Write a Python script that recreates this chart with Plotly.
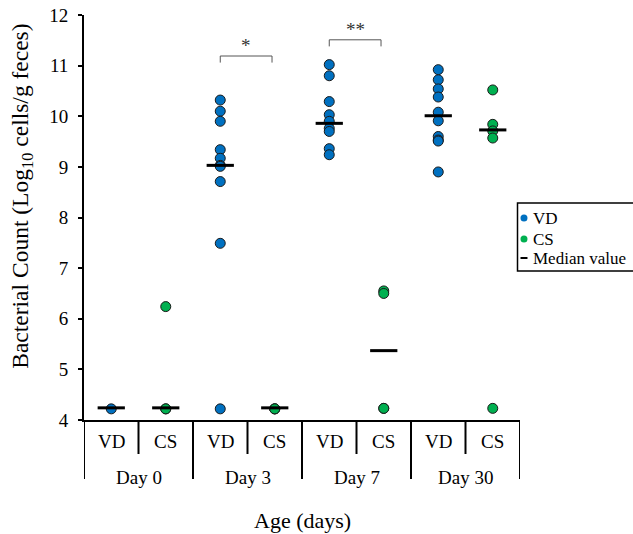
import plotly.graph_objects as go

# ---------------- data ----------------
days = ["Day 0", "Day 3", "Day 7", "Day 30"]
groups = ["VD", "CS"]
y_ticks = [4, 5, 6, 7, 8, 9, 10, 11, 12]

vd_values = [
    [4.22],
    [10.32, 10.10, 9.90, 9.34, 9.17, 9.03, 9.01, 8.71, 7.49, 4.22],
    [11.02, 10.80, 10.29, 10.03, 9.90, 9.76, 9.70, 9.36, 9.24],
    [10.92, 10.72, 10.54, 10.38, 10.08, 9.91, 9.60, 9.53, 9.51, 8.90],
]
cs_values = [
    [6.24, 4.22, 4.22],
    [4.22, 4.22, 4.22],
    [6.55, 6.50, 4.23, 4.23],
    [10.52, 9.84, 9.71, 9.57, 4.23],
]
# median values (VD, CS per day)
vd_median = [4.24, 9.03, 9.86, 10.01]
cs_median = [4.24, 4.24, 5.37, 9.73]

# significance brackets: (day index, label)
significance = [(1, "*"), (2, "**")]
sig_height = [11.19, 11.51]

# ---------------- styling ----------------
FONT = "Liberation Serif"
BLUE = "#0070C0"
GREEN = "#00B050"

fig = go.Figure()

def add_points(values, offset, color, name):
    xs, ys = [], []
    for d, vals in enumerate(values):
        for v in vals:
            xs.append(d * 2 + offset)
            ys.append(v)
    fig.add_trace(go.Scatter(
        x=xs, y=ys, mode="markers", name=name, showlegend=False,
        marker=dict(size=10, color=color, line=dict(color="#1a1a1a", width=1)),
    ))

add_points(vd_values, 0, BLUE, "VD")
add_points(cs_values, 1, GREEN, "CS")

# median lines
mx, my = [], []
for d in range(len(days)):
    for off, med in ((0, vd_median[d]), (1, cs_median[d])):
        c = d * 2 + off
        mx += [c - 0.25, c + 0.25, None]
        my += [med, med, None]
fig.add_trace(go.Scatter(x=mx, y=my, mode="lines", showlegend=False,
                         line=dict(color="black", width=3)))

shapes = []
annotations = []

# significance brackets
for (d, lab), h in zip(significance, sig_height):
    x0 = d * 2 + 0.0
    x1 = d * 2 + 0.95
    shapes.append(dict(type="path", xref="x", yref="y",
                       path=f"M {x0},{h-0.13} L {x0},{h} L {x1},{h} L {x1},{h-0.13}",
                       line=dict(color="#555555", width=1)))
    annotations.append(dict(x=(x0 + x1) / 2, y=h + 0.2, xref="x", yref="y",
                            text=lab, showarrow=False,
                            font=dict(family=FONT, size=19, color="#333")))

# category axis: dividers and labels
n = len(days) * 2
for b in range(n + 1):
    xb = b - 0.5
    major = (b % 2 == 0)
    shapes.append(dict(type="line", xref="x", yref="paper",
                       x0=xb, x1=xb, y0=0, y1=-0.1457 if major else -0.084,
                       line=dict(color="black", width=2)))
for d, day in enumerate(days):
    for g, grp in enumerate(groups):
        annotations.append(dict(x=d * 2 + g, y=-0.052, xref="x", yref="paper",
                                text=grp, showarrow=False, yanchor="middle",
                                font=dict(family=FONT, size=19, color="black")))
    annotations.append(dict(x=d * 2 + 0.5, y=-0.141, xref="x", yref="paper",
                            text=day, showarrow=False, yanchor="middle",
                            font=dict(family=FONT, size=19, color="black")))

# axis titles
annotations.append(dict(x=0.5, y=-0.247, xref="paper", yref="paper",
                        text="Age (days)", showarrow=False, yanchor="middle",
                        font=dict(family=FONT, size=22, color="black")))
annotations.append(dict(x=-0.1429, y=0.553, xref="paper", yref="paper",
                        text="Bacterial Count (Log<sub>10</sub> cells/g feces)",
                        textangle=-90, showarrow=False,
                        xanchor="center", yanchor="middle",
                        font=dict(family=FONT, size=23.5, color="black")))

# manual legend
PW = 437.0  # plot width in px
PH = 405.0  # plot height in px
def px(xp):
    return (xp - 83.5) / PW
def py(yp):
    return (420 - yp) / PH

shapes.append(dict(type="rect", xref="paper", yref="paper",
                   x0=px(518), x1=px(640), y0=py(203), y1=py(271),
                   line=dict(color="black", width=1.5), fillcolor="white"))
leg_items = [("VD", BLUE, 218), ("CS", GREEN, 239), ("Median value", None, 258)]
for name, col, yp in leg_items:
    if col:
        shapes.append(dict(type="circle", xref="paper", yref="paper",
                           xsizemode="pixel", ysizemode="pixel",
                           xanchor=px(524.5), yanchor=py(yp),
                           x0=-3.5, x1=3.5, y0=-3.5, y1=3.5,
                           fillcolor=col, line=dict(width=0)))
    else:
        shapes.append(dict(type="line", xref="paper", yref="paper",
                           x0=px(521), x1=px(528), y0=py(yp), y1=py(yp),
                           line=dict(color="black", width=2)))
    annotations.append(dict(x=px(532), y=py(yp), xref="paper", yref="paper",
                            text=name, showarrow=False, xanchor="left",
                            yanchor="middle",
                            font=dict(family=FONT, size=17, color="black")))

fig.update_layout(
    width=633, height=534,
    margin=dict(l=83.5, r=112.5, t=15, b=114, autoexpand=False),
    paper_bgcolor="white", plot_bgcolor="white",
    showlegend=False,
    font=dict(family=FONT, size=19, color="black"),
    xaxis=dict(range=[-0.5, n - 0.5], showticklabels=False, ticks="",
               showgrid=False, zeroline=False, showline=True, automargin=False,
               linecolor="black", linewidth=2),
    yaxis=dict(range=[4, 12], tickvals=y_ticks, ticks="outside", ticklen=4,
               tickwidth=2, tickcolor="black", showgrid=False, zeroline=False,
               showline=True, linecolor="black", linewidth=2, automargin=False,
               ticklabelstandoff=6, ticklabeloverflow="allow",
               tickfont=dict(family=FONT, size=19, color="black")),
    shapes=shapes,
    annotations=annotations,
)

# remove the default page margin so the 633x534 figure fills the window
fig.write_html("out.html", config={"displayModeBar": False},
               post_script="document.body.style.margin='0';")
